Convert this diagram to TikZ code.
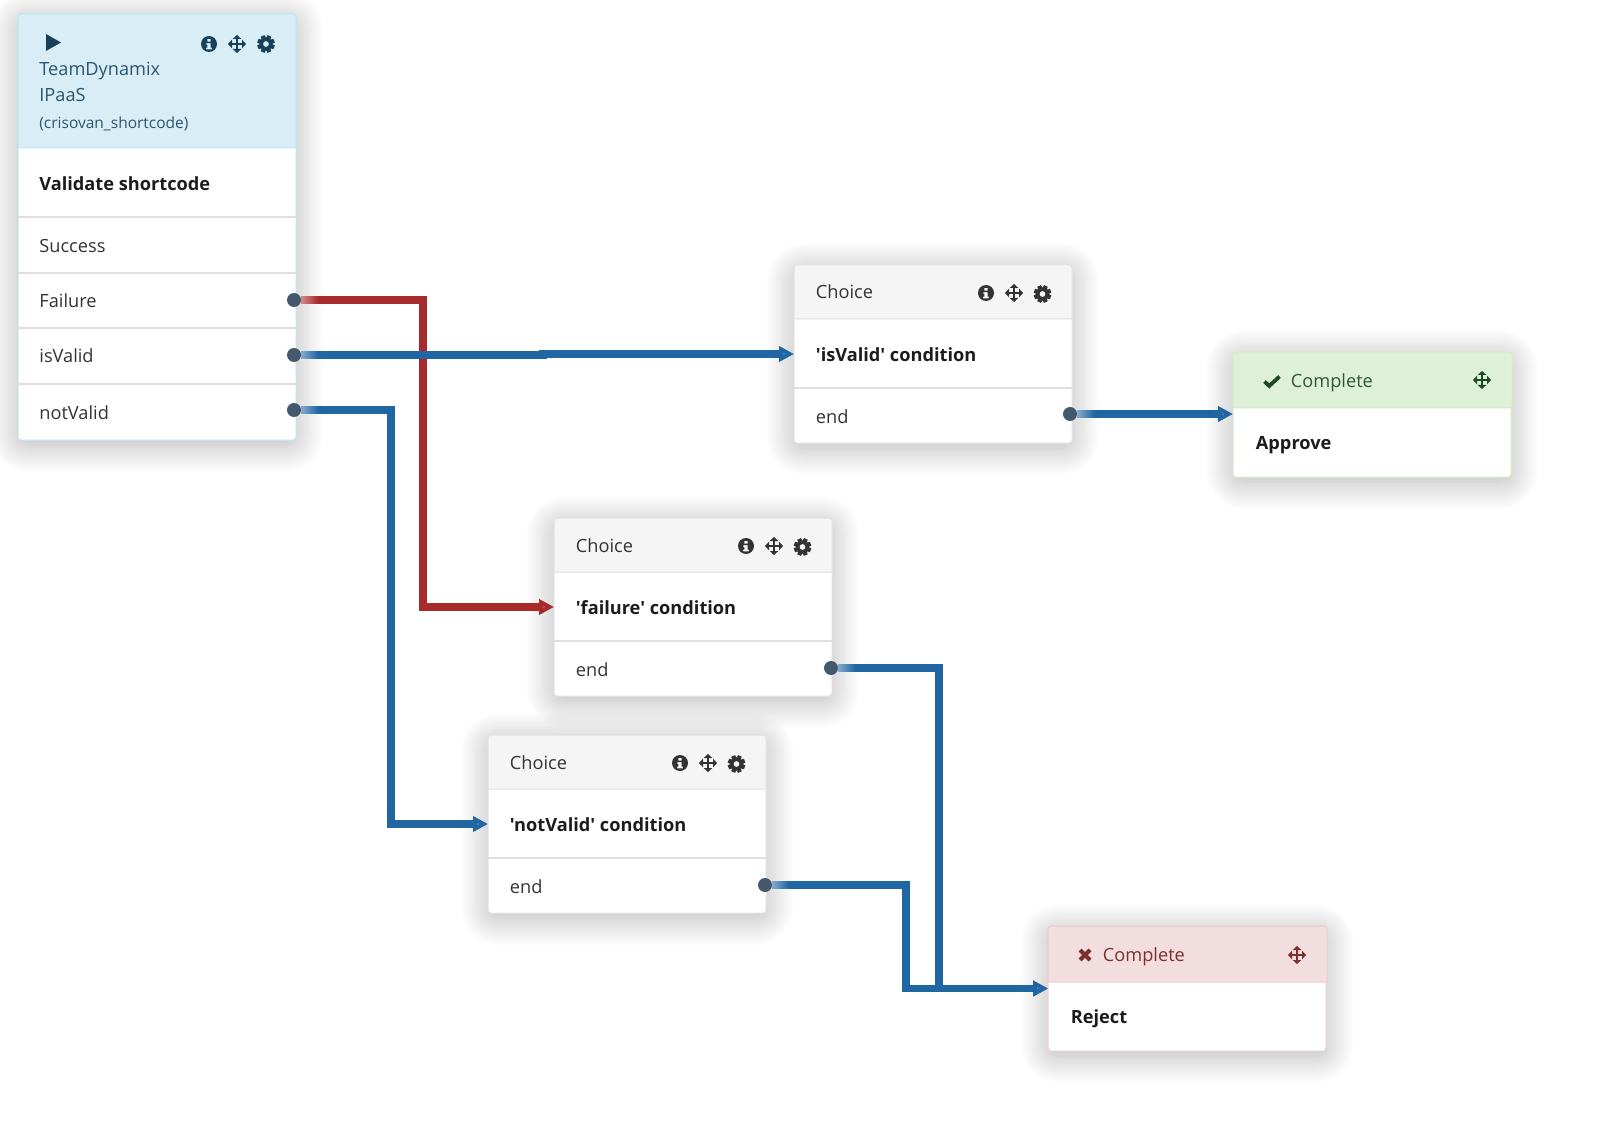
\documentclass[tikz,border=0pt]{standalone}
\usepackage{fontspec}
\setmainfont[Ligatures=TeXOff]{Open Sans}
\usetikzlibrary{arrows.meta,calc,shadows.blur}
\definecolor{wireblue}{HTML}{2066A3}
\definecolor{wirered}{HTML}{A82B2B}
\definecolor{portgrey}{HTML}{44586E}
\definecolor{rowline}{HTML}{DFDFDF}
\definecolor{tealhead}{HTML}{D9EDF7}
\definecolor{tealedge}{HTML}{BCE8F1}
\definecolor{tealtext}{HTML}{2B5670}
\definecolor{tealicon}{HTML}{17415A}
\definecolor{greyhead}{HTML}{F5F5F5}
\definecolor{greyedge}{HTML}{E2E2E2}
\definecolor{greytext}{HTML}{333333}
\definecolor{greenhead}{HTML}{DFF0D8}
\definecolor{greenedge}{HTML}{D6EBC8}
\definecolor{greentext}{HTML}{2E5A33}
\definecolor{greenicon}{HTML}{1D4A21}
\definecolor{redhead}{HTML}{F2DEDE}
\definecolor{rededge}{HTML}{EBCCD1}
\definecolor{redtext}{HTML}{7D2F2F}
\definecolor{blacktext}{HTML}{1C1C1C}
\tikzstyle{card}=[rectangle,anchor=north west,fill=white,inner sep=0pt,outer sep=0pt,minimum width=139pt,rounded corners=1.5pt,line width=.5pt,blur shadow={shadow xshift=0pt,shadow yshift=-2.5pt,shadow blur radius=14pt,shadow blur extra rounding=5pt,shadow blur steps=30,shadow opacity=30}]
\tikzstyle{plaintext}=[anchor=base west,inner sep=0pt,font=\fontsize{9.1}{11}\selectfont]
\tikzstyle{smalltext}=[plaintext,font=\fontsize{7.75}{10}\selectfont]
\tikzstyle{boldtext}=[plaintext,text=blacktext,font=\fontsize{9.1}{11}\selectfont\bfseries]
\tikzstyle{port}=[circle,fill=portgrey,inner sep=0pt,outer sep=0pt,minimum size=7pt]
\tikzstyle{bluewire}=[draw,wireblue,line width=3.7pt,-{Triangle[length=7.5pt,width=7.5pt,fill=wireblue!82!white]}]
\tikzstyle{redwire}=[draw,wirered,line width=3.7pt,-{Triangle[length=7.5pt,width=7.5pt,fill=wirered!82!white]}]
\tikzstyle{rowrule}=[draw=rowline,line width=.75pt]
\tikzset{
  infoicon/.pic={\fill[even odd rule] (0,0) circle (8) (-1.6,-5.2) rectangle (1.6,-2.4) (-2.6,-.8) -- (1.6,-.8) -- (1.6,3.6) -- (2.8,3.6) -- (2.8,5.4) -- (-2.8,5.4) -- (-2.8,3.6) -- (-1.6,3.6) -- (-1.6,1) -- (-2.6,1) -- cycle;},
  moveicon/.pic={\draw[line width=1.1pt,{Triangle[length=2pt,width=4.2pt]}-{Triangle[length=2pt,width=4.2pt]}] (-9,0) -- (9,0);
    \draw[line width=1.1pt,{Triangle[length=2pt,width=4.2pt]}-{Triangle[length=2pt,width=4.2pt]}] (0,-9) -- (0,9);},
  gearicon/.pic={\fill[even odd rule] (0,0) circle (3) (9.5:9) \foreach \a in {22.5,67.5,...,337.5} { -- ({\a-13}:9) -- ({\a+13}:9) -- ({\a+20}:6.6) -- ({\a+25}:6.6)} -- cycle;},
  playicon/.pic={\fill (0,-8.5) -- (15,0) -- (0,8.5) -- cycle;},
  checkicon/.pic={\draw[line width=1.9pt] (-7.5,.5) -- (-2.8,5) -- (7.5,-4.5);},
  crossicon/.pic={\draw[line width=2pt] (-5,-5) -- (5,5) (-5,5) -- (5,-5);}
}
\newcommand{\headbar}[4]{\filldraw[fill=#1,draw=#2,line width=.5pt,sharp corners] (0,#3) [rounded corners=1.5pt] -- (0,0) -- (#4,0) [sharp corners] -- (#4,#3) -- cycle;}

\begin{document}
\begin{tikzpicture}[x=.5pt,y=-.5pt]
    \useasboundingbox (0,0) rectangle (1600,1128);

    % trigger card
    \begin{scope}[shift={(18,14)}]
        \node[card,draw=tealedge,minimum height=213pt] (trigger) at (0,0) {};
        \headbar{tealhead}{tealedge}{134}{278}
        \pic[color=tealicon] at (28,28.5) {playicon};
        \pic[color=tealicon] at (191,30) {infoicon};
        \pic[color=tealicon] at (219,30) {moveicon};
        \pic[color=tealicon] at (248,30) {gearicon};
        \node[plaintext,text=tealtext] (titlea) at (21,62) {TeamDynamix};
        \node[plaintext,text=tealtext] (titleb) at (21,88) {IPaaS};
        \node[smalltext,text=tealtext] (titlec) at (21,115) {(crisovan\_shortcode)};
        \node[boldtext] (validate) at (21,177) {Validate shortcode};
        \foreach \y in {203,259,314,370}
            \path[rowrule] (0,\y) -- (278,\y);
        \foreach \y/ \name/ \txt in {239/success/Success, 294/failure/Failure, 349/isvalid/isValid, 405/notvalid/notValid}
            \node[plaintext,text=greytext] (\name) at (21,\y) {\txt};
    \end{scope}

    % choice cards
    \foreach \xx/ \yy/ \name/ \txt in {794/265/choicea/{'isValid' condition}, 554/518/choiceb/{'failure' condition}, 488/735/choicec/{'notValid' condition}} {
        \begin{scope}[shift={(\xx,\yy)}]
            \node[card,draw=greyedge,minimum height=89pt] (\name) at (0,0) {};
            \headbar{greyhead}{greyedge}{54}{278}
            \path[rowrule] (0,123) -- (278,123);
            \node[plaintext,text=greytext] (\name title) at (21.5,34) {Choice};
            \node[boldtext] (\name cond) at (21.5,96.5) {\txt};
            \node[plaintext,text=greytext] (\name end) at (21.5,158.5) {end};
            \pic[color=blacktext!90] at (192,28) {infoicon};
            \pic[color=blacktext!90] at (220,28) {moveicon};
            \pic[color=blacktext!90] at (248.5,29) {gearicon};
        \end{scope}
    }

    % complete cards
    \begin{scope}[shift={(1233,352)}]
        \node[card,draw=greenedge,minimum height=62.5pt] (approve) at (0,0) {};
        \headbar{greenhead}{greenedge}{56}{279}
        \pic[color=greenicon] at (39,29) {checkicon};
        \node[plaintext,text=greentext] (approvetitle) at (57.5,35) {Complete};
        \pic[color=greenicon] at (249,28) {moveicon};
        \node[boldtext] (approvetxt) at (22.5,97) {Approve};
    \end{scope}
    \begin{scope}[shift={(1048,926)}]
        \node[card,draw=rededge,minimum height=62.5pt] (reject) at (0,0) {};
        \headbar{redhead}{rededge}{56}{279}
        \pic[color=redtext] at (37,29) {crossicon};
        \node[plaintext,text=redtext] (rejecttitle) at (54.5,35) {Complete};
        \pic[color=redtext] at (249,29) {moveicon};
        \node[boldtext] (rejecttxt) at (22.5,97) {Reject};
    \end{scope}

    % ports
    \foreach \pos/ \name in {{(294,300)/pfail},{(294,355)/pvalid},{(294,410)/pnot},{(1070,414)/penda},{(831,668)/pendb},{(765,885)/pendc}}
        \node[port] (\name) at \pos {};

    \coordinate (failbend) at (423,300);
    \coordinate (notbend) at (391,410);
    \coordinate (validjog) at (543,355);
    \coordinate (endbbend) at (939,668);
    \coordinate (endcbend) at (906,885);

    % Connect ports with cards
    \path[redwire] (pfail) -- (failbend) |- (choiceb.west);
    \path[bluewire] (pnot) -- (notbend) |- (choicec.west);
    \path[bluewire] (pvalid) -- (validjog) |- (choicea.west);
    \path[bluewire] (penda) -- (approve.west |- penda);
    \path[bluewire] (pendb) -- (endbbend) |- (reject.west);
    \path[bluewire] (pendc) -- (endcbend) |- (reject.west);

    % lighter start of the wires
    \foreach \name/ \col in {pfail/wirered, pvalid/wireblue, pnot/wireblue, penda/wireblue, pendb/wireblue, pendc/wireblue}
        \shade[left color=\col!55!white,right color=\col] ($(\name)+(7,-3.7)$) rectangle ($(\name)+(24,3.7)$);

\end{tikzpicture}
\end{document}
